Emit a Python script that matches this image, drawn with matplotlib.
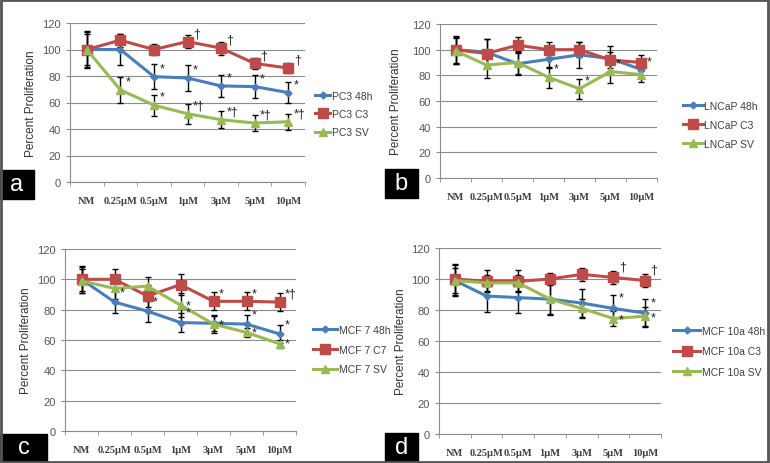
import matplotlib
matplotlib.use("Agg")
import matplotlib.pyplot as plt
from matplotlib.patches import Rectangle

plt.rcParams['font.family'] = ['Liberation Sans', 'DejaVu Sans']

# categories
doses = ['NM', '0.25\u03bcM', '0.5\u03bcM', '1\u03bcM', '3\u03bcM', '5\u03bcM', '10\u03bcM']

# panel a - PC3
pc3_48h = [100, 100, 79.5, 78.5, 72.5, 72, 67.5]
pc3_48h_err = [14, 12, 9.5, 9.5, 8.5, 8.5, 8]
pc3_c3 = [100, 107, 100, 106, 101, 89.5, 86]
pc3_c3_err = [13, 5, 4.5, 5, 5, 4, 4]
pc3_sv = [100, 69.5, 58, 51.5, 47, 44.5, 45.5]
pc3_sv_err = [12, 10, 8, 7.5, 6.5, 6, 6]
pc3_marks = [['', '', '*', '*', '*', '*', '*'],
             ['', '', '', '\u2020', '\u2020', '\u2020', '\u2020'],
             ['', '*', '*', '*\u2020', '*\u2020', '*\u2020', '*\u2020']]

# panel b - LNCaP
lncap_48h = [100, 98, 89, 92.5, 96, 93, 84.5]
lncap_48h_err = [11, 10, 9, 7, 10, 10, 6]
lncap_c3 = [100, 97, 103.5, 100, 100, 92, 90]
lncap_c3_err = [10, 11, 6, 6, 6, 6, 6]
lncap_sv = [99, 88, 90, 78.5, 69.5, 83, 80.5]
lncap_sv_err = [10, 10, 9, 8, 8, 9, 6]
lncap_marks = [['', '', '', '', '', '', '*'],
               ['', '', '', '', '', '', ''],
               ['', '', '', '*', '*', '*', '']]

# panel c - MCF 7
mcf7_48h = [100, 85, 79, 71.5, 71, 70.5, 64]
mcf7_48h_err = [8, 7.5, 7, 6.5, 5, 6, 6]
mcf7_c7 = [100, 100, 89, 96.5, 85.5, 85.5, 85]
mcf7_c7_err = [9, 7, 7, 7, 6, 6, 6]
mcf7_sv = [99, 94, 95.5, 83, 70.5, 65, 57.5]
mcf7_sv_err = [8, 7, 6, 8, 6, 3, 2.5]
mcf7_marks = [['', '*', '*', '*', '', '*', '*'],
              ['', '', '', '', '*', '*', '*\u2020'],
              ['', '', '', '*', '*', '*', '*']]

# panel d - MCF 10a
mcf10_48h = [99, 89, 88, 87, 84.5, 81, 78]
mcf10_48h_err = [10, 10, 10, 9.5, 9, 9, 9]
mcf10_c3 = [100, 98.5, 98.5, 100, 103, 101, 99]
mcf10_c3_err = [10, 7, 7, 4, 4, 4, 4]
mcf10_sv = [99, 97.5, 97.5, 87, 81, 74.5, 76]
mcf10_sv_err = [8, 5, 5, 10, 6, 5, 6]
mcf10_marks = [['', '', '', '', '', '*', '*'],
               ['', '', '', '', '', '\u2020', '\u2020'],
               ['', '', '', '', '', '*', '*']]

BLUE = '#4a7ebb'
RED = '#be4b48'
GREEN = '#98b954'
GRID = '#8c8c8c'

W, H = 770, 464
fig = plt.figure(figsize=(7.7, 4.64), dpi=100)


def px_axes(x0, y0, x1, y1):
    return fig.add_axes([x0 / W, 1 - y1 / H, (x1 - x0) / W, (y1 - y0) / H])


def panel(box, series, names, marks, ylab_x, leg_xy, leg_space, leg_hl, mark_dy=(6, 6, 6)):
    ax = px_axes(*box)
    x = list(range(len(doses)))
    styles = [(BLUE, 'D', 3.5), (RED, 's', 7), (GREEN, '^', 6)]
    handles = []
    for (vals, err), name, (col, mk, ms) in zip(series, names, styles):
        ax.errorbar(x, vals, yerr=err, fmt='none', ecolor='black', elinewidth=1,
                    capsize=2.5, capthick=1, zorder=2)
        h, = ax.plot(x, vals, color=col, marker=mk, markersize=ms, lw=2.2, zorder=3,
                     label=name)
        handles.append(h)
    for (vals, err), lab, dy in zip(series, marks, mark_dy):
        for i, t in enumerate(lab):
            if t:
                ax.annotate(t, (i, vals[i]), xytext=(4, dy), textcoords='offset points',
                            fontsize=9, color='#222222', ha='left', va='center')
    ax.set_xlim(-0.5, len(doses) - 0.5)
    ax.set_ylim(0, 120)
    ax.set_yticks(range(0, 121, 20))
    ax.set_xticks(x)
    ax.set_xticklabels(doses, fontsize=7.5, family='Liberation Serif',
                       fontweight='bold', color='#404040')
    ax.set_xticks([i - 0.5 for i in range(len(doses) + 1)], minor=True)
    ax.tick_params(axis='x', which='major', length=0, pad=10)
    ax.tick_params(axis='x', which='minor', length=3, color=GRID)
    ax.tick_params(axis='y', length=3, color=GRID, labelsize=8, labelcolor='#555555')
    ax.grid(axis='y', color=GRID, lw=0.8)
    ax.set_axisbelow(True)
    for s in ['top', 'right']:
        ax.spines[s].set_visible(False)
    for s in ['left', 'bottom']:
        ax.spines[s].set_color(GRID)
    ax.set_ylabel('Percent Proliferation', fontsize=8.5, color='#333333')
    ax.yaxis.set_label_coords((ylab_x - box[0]) / (box[2] - box[0]), 0.5)
    fig.legend(handles=handles, loc='upper left',
               bbox_to_anchor=(leg_xy[0] / W, 1 - leg_xy[1] / H), frameon=False,
               fontsize=7.5, handlelength=leg_hl, handletextpad=0.15, borderaxespad=0,
               borderpad=0, labelspacing=leg_space, labelcolor='#404040')
    return ax


panel((70, 24, 305, 183),
      [(pc3_48h, pc3_48h_err), (pc3_c3, pc3_c3_err), (pc3_sv, pc3_sv_err)],
      ['PC3 48h', 'PC3 C3', 'PC3 SV'], pc3_marks, 37, (315, 92), 0.78, 1.45)
panel((440, 25, 657, 179),
      [(lncap_48h, lncap_48h_err), (lncap_c3, lncap_c3_err), (lncap_sv, lncap_sv_err)],
      ['LNCaP 48h', 'LNCaP C3', 'LNCaP SV'], lncap_marks, 402, (683, 102), 0.87, 1.9)
panel((65, 250, 296, 432),
      [(mcf7_48h, mcf7_48h_err), (mcf7_c7, mcf7_c7_err), (mcf7_sv, mcf7_sv_err)],
      ['MCF 7 48h', 'MCF 7 C7', 'MCF 7 SV'], mcf7_marks, 32, (313, 326), 0.92, 2.3,
      mark_dy=(7, 6, 0))
panel((439, 249, 661, 435),
      [(mcf10_48h, mcf10_48h_err), (mcf10_c3, mcf10_c3_err), (mcf10_sv, mcf10_sv_err)],
      ['MCF 10a 48h', 'MCF 10a C3', 'MCF 10a SV'], mcf10_marks, 407, (673, 327), 1.0, 2.6,
      mark_dy=(8, 8, -1))

# panel letters in black boxes
for lab, (x0, y0, x1, y1) in zip('abcd', [(0, 171, 34, 200), (385, 170, 418, 199),
                                          (0, 435, 47, 462), (385, 434, 418, 462)]):
    fig.patches.append(Rectangle((x0 / W, 1 - y1 / H), (x1 - x0) / W, (y1 - y0) / H,
                                 transform=fig.transFigure, color='black', zorder=5))
    fig.text((x0 + x1) / 2 / W, 1 - (y0 + y1) / 2 / H, lab, color='white', fontsize=17,
             ha='center', va='center', zorder=6)

# outer frame
fig.patches.append(Rectangle((0.001, 0.003), 0.997, 0.994, transform=fig.transFigure,
                             fill=False, edgecolor='#555555', lw=2, zorder=7))

fig.savefig('out.png', dpi=100)
